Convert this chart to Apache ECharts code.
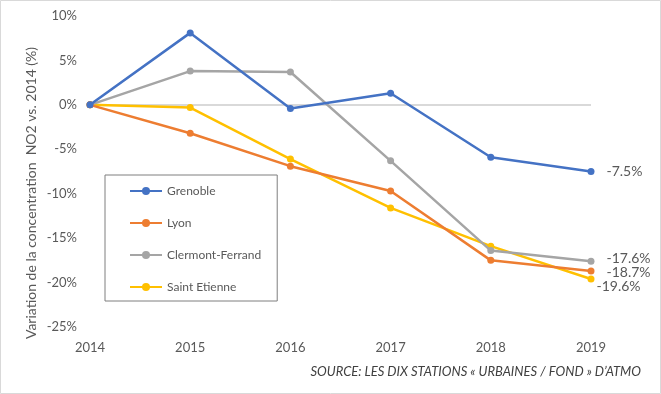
<!DOCTYPE html>
<html><head><meta charset="utf-8">
<script src="https://cdn.jsdelivr.net/npm/echarts@6/dist/echarts.min.js"></script>
<style>html,body{margin:0;padding:0;background:#fff}#c{width:661px;height:394px}</style>
</head><body><div id="c"></div>
<script>
const years = ['2014','2015','2016','2017','2018','2019'];
const grenoble = [0, 8.1, -0.4, 1.3, -5.9, -7.5];
const lyon = [0, -3.2, -6.9, -9.7, -17.5, -18.7];
const clermont = [0, 3.8, 3.7, -6.3, -16.4, -17.6];
const stEtienne = [0, -0.3, -6.1, -11.6, -15.9, -19.6];
const seriesNames = ['Grenoble','Lyon','Clermont-Ferrand','Saint Etienne'];
const colors = ['#4472C4','#ED7D31','#A5A5A5','#FFC000'];
const yTicks = {min:-25, max:10, step:5};
const sourceText = 'SOURCE: LES DIX STATIONS « URBAINES / FOND » D\u2019ATMO';
const yName = 'Variation de la concentration  NO2 vs. 2014 (%)';

const font = 'Lato, "Liberation Sans", sans-serif';
const labelOffsets = [[0,0],[0,1],[0,-3],[-10,7]];
const allData = [grenoble, lyon, clermont, stEtienne];

function mkData(arr, i){
  return arr.map((v,k)=>{
    if(k===arr.length-1){
      return {value:v, label:{show:true, position:'right', distance:12, offset:labelOffsets[i],
        formatter:(p)=>p.value.toFixed(1)+'%', color:'#595959', fontSize:14, fontFamily:font}};
    }
    return v;
  });
}

const series = allData.map((arr,i)=>({
  name: seriesNames[i], type:'line', data: mkData(arr,i),
  symbol:'circle', symbolSize:7, color: colors[i],
  lineStyle:{width:2.5, color: colors[i]}, itemStyle:{color: colors[i]},
  z: 10 - i,
  animation:false
}));
series[0].markLine = {silent:true, symbol:'none', label:{show:false},
  lineStyle:{color:'#D9D9D9', width:2, type:'solid'}, data:[{yAxis:0}], z:1};

const chart = echarts.init(document.getElementById('c'));
chart.setOption({
  animation:false,
  backgroundColor:'#fff',
  grid:{left:90, right:70, top:16, bottom:67},
  xAxis:{type:'category', data:years, boundaryGap:false,
    axisLine:{show:false}, axisTick:{show:false},
    axisLabel:{color:'#595959', fontSize:13, fontFamily:font, margin:14},
    splitLine:{show:false}},
  yAxis:{type:'value', min:yTicks.min, max:yTicks.max, interval:yTicks.step,
    axisLine:{show:false}, axisTick:{show:false}, splitLine:{show:false},
    axisLabel:{formatter:'{value}%', color:'#595959', fontSize:13, fontFamily:font, margin:13}},
  legend:{orient:'vertical', left:105, top:175, itemGap:20, itemWidth:32, itemHeight:10,
    padding:[10,16,8,24], borderColor:'#7F7F7F', borderWidth:1,
    textStyle:{color:'#595959', fontSize:12, fontFamily:font},
    data:seriesNames},
  series: series,
  graphic:[
    {type:'rect', shape:{x:0.5,y:0.5,width:660,height:393}, style:{fill:'none', stroke:'#D9D9D9', lineWidth:1}, silent:true},
    {type:'text', x:31, y:193, rotation:Math.PI/2, silent:true,
      style:{text:yName, fill:'#595959', font:'14px '+font, align:'center', verticalAlign:'middle'}},
    {type:'text', right:20, top:365, style:{text:sourceText, fill:'#404040', font:'italic 13px '+font}}
  ]
});
</script></body></html>
